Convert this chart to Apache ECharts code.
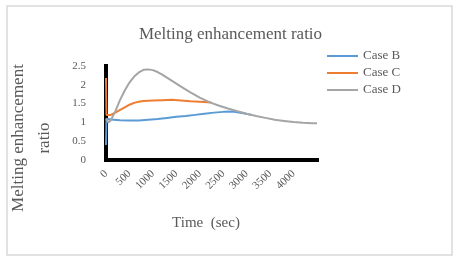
<!DOCTYPE html>
<html>
<head>
<meta charset="utf-8">
<script src="https://cdn.jsdelivr.net/npm/echarts@6/dist/echarts.min.js"></script>
<style>
html,body{margin:0;padding:0;background:#fff;}
#chart{width:461px;height:264px;}
</style>
</head>
<body>
<div id="chart"></div>
<script>
// ---- data (time in sec, melting enhancement ratio) ----
var seriesNames = ['Case B', 'Case C', 'Case D'];
var xTickLabels = ['0','500','1000','1500','2000','2500','3000','3500','4000'];
var yTickLabels = ['0','0.5','1','1.5','2','2.5'];

var bTime  = [0, 10, 100, 300, 500, 700, 900, 1100, 1300, 1500, 1700, 1900, 2100, 2300, 2500, 2700, 2900, 3100];
var bRatio = [0.40, 1.10, 1.08, 1.06, 1.05, 1.05, 1.07, 1.09, 1.12, 1.15, 1.17, 1.20, 1.23, 1.26, 1.28, 1.29, 1.25, 1.20];

var cTime  = [0, 10, 100, 200, 300, 400, 500, 600, 700, 800, 1000, 1200, 1400, 1600, 1800, 2000, 2250];
var cRatio = [2.18, 1.20, 1.20, 1.26, 1.33, 1.40, 1.47, 1.52, 1.55, 1.57, 1.58, 1.59, 1.60, 1.58, 1.56, 1.55, 1.53];

var dTime  = [0, 50, 100, 200, 300, 400, 500, 600, 700, 800, 900, 1000, 1100, 1200, 1400, 1600, 1800, 2000, 2200, 2400, 2600, 2800, 3000, 3200, 3400, 3600, 3800, 4000, 4200, 4400, 4500];
var dRatio = [1.10, 1.00, 1.05, 1.30, 1.60, 1.85, 2.06, 2.22, 2.33, 2.40, 2.41, 2.39, 2.34, 2.27, 2.11, 1.95, 1.80, 1.66, 1.54, 1.45, 1.37, 1.30, 1.23, 1.17, 1.12, 1.07, 1.04, 1.01, 0.99, 0.98, 0.98];

function pairs(t, v) { return t.map(function (x, i) { return [x, v[i]]; }); }

var font = 'Liberation Serif, Times New Roman, serif';
var txt = '#595959';
var chart = echarts.init(document.getElementById('chart'), null, {renderer: 'canvas'});
chart.setOption({
  animation: false,
  backgroundColor: '#fff',
  title: {
    text: 'Melting enhancement ratio',
    left: 'center', top: 21,
    textStyle: {fontFamily: font, fontSize: 17, fontWeight: 'normal', color: txt}
  },
  legend: {
    orient: 'vertical', left: 327, top: 49, padding: 0,
    itemWidth: 31, itemHeight: 2, itemGap: 3, icon: 'rect',
    textStyle: {fontFamily: font, fontSize: 13, color: txt, lineHeight: 14},
    data: seriesNames
  },
  grid: {left: 106, right: 144, top: 66, bottom: 104},
  xAxis: {
    type: 'value', min: 0, max: 4500, interval: 500,
    name: 'Time  (sec)', nameLocation: 'middle', nameGap: 56,
    nameTextStyle: {fontFamily: font, fontSize: 15, color: txt, padding: [0, 11, 0, 0]},
    axisLine: {lineStyle: {color: '#000', width: 4, cap: 'square'}},
    axisTick: {show: false},
    splitLine: {show: false},
    axisLabel: {
      rotate: 45, margin: 12, fontFamily: font, fontSize: 11, color: txt,
      showMaxLabel: false,
      formatter: function (v) { var s = String(v); return xTickLabels.indexOf(s) >= 0 ? s : ''; }
    }
  },
  yAxis: {
    type: 'value', min: 0, max: 2.5, interval: 0.5,
    axisLine: {show: true, lineStyle: {color: '#000', width: 4, cap: 'square'}},
    axisTick: {show: false},
    splitLine: {show: false},
    axisLabel: {
      margin: 20, fontFamily: font, fontSize: 11, color: txt,
      formatter: function (v) { var s = String(v); return yTickLabels.indexOf(s) >= 0 ? s : ''; }
    }
  },
  graphic: [
    {type: 'rect', shape: {x: 7, y: 6, width: 445, height: 249}, style: {fill: null, stroke: '#d9d9d9', lineWidth: 1.5}, silent: true},
    {type: 'text', x: 32, y: 138, rotation: Math.PI / 2,
     style: {text: 'Melting enhancement\nratio', fontFamily: font, fontSize: 17, fill: txt, align: 'center', verticalAlign: 'middle', lineHeight: 26}}
  ],
  series: [
    {name: seriesNames[0], type: 'line', data: pairs(bTime, bRatio), showSymbol: false, symbol: 'none', lineStyle: {width: 2, color: '#5B9BD5'}, itemStyle: {color: '#5B9BD5'}},
    {name: seriesNames[1], type: 'line', data: pairs(cTime, cRatio), showSymbol: false, symbol: 'none', lineStyle: {width: 2, color: '#ED7D31'}, itemStyle: {color: '#ED7D31'}},
    {name: seriesNames[2], type: 'line', data: pairs(dTime, dRatio), showSymbol: false, symbol: 'none', lineStyle: {width: 2, color: '#A5A5A5'}, itemStyle: {color: '#A5A5A5'}}
  ]
});
</script>
</body>
</html>
